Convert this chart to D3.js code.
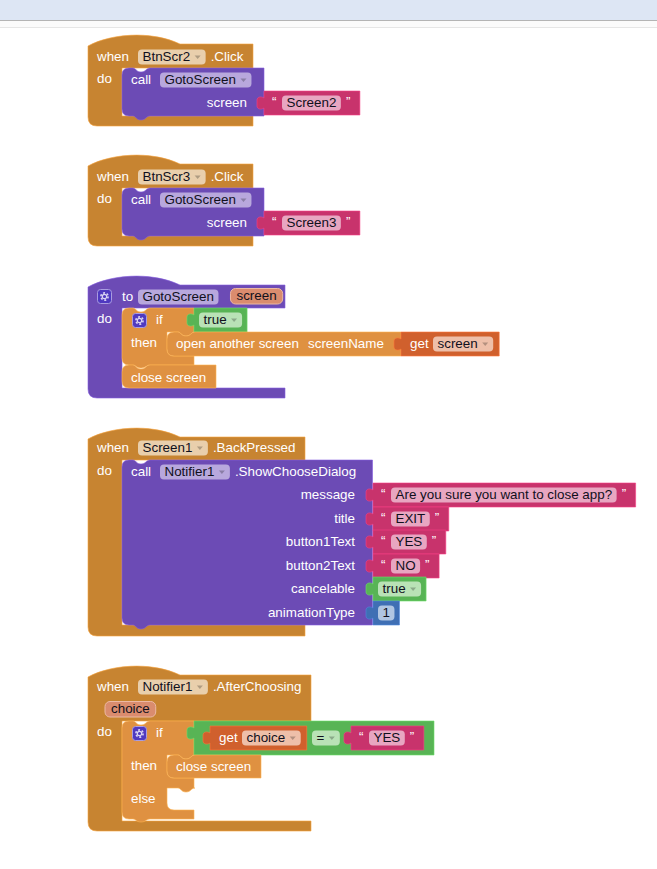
<!DOCTYPE html>
<html>
<head>
<meta charset="utf-8">
<script src="https://cdn.jsdelivr.net/npm/d3@7/dist/d3.min.js"></script>
<style>
  html, body { margin: 0; padding: 0; background: #fff; }
  svg { display: block; }
  text { font-family: "Liberation Sans", Arial, sans-serif; font-size: 13.4px; }
</style>
</head>
<body>
<svg id="chart" width="657" height="869"></svg>
<script>
// block labels
const clickButtons = ['BtnScr2', 'BtnScr3'];
const clickTargets = ['Screen2', 'Screen3'];
const procedureName = 'GotoScreen';
const procedureParam = 'screen';
const dialogParams = ['message', 'title', 'button1Text', 'button2Text', 'cancelable', 'animationType'];
const dialogStrings = ['Are you sure you want to close app?', 'EXIT', 'YES', 'NO'];
const dialogBool = 'true';
const dialogNumber = '1';
const choiceParam = 'choice';
const choiceMatch = 'YES';

const brown = '#c78431', purple = '#6c4bb5', pink = '#c8336c', green = '#58b455',
  orange = '#df9141', rust = '#d0602d', blue = '#3f6fb4';

const svg = d3.select('#chart');

// browser chrome strip on top
svg.append('rect').attr('width', 657).attr('height', 20).attr('fill', '#dde6f4');
svg.append('rect').attr('y', 20).attr('width', 657).attr('height', 1).attr('fill', '#b4b4b4');
svg.append('rect').attr('y', 21).attr('width', 657).attr('height', 6).attr('fill', '#fbfbfb');
svg.append('rect').attr('y', 27).attr('width', 657).attr('height', 1).attr('fill', '#e6e6e6');

var gBlocks = svg.append('g');

var shape = function (d, fill) {
  gBlocks.append('path')
    .attr('d', d.toString())
    .attr('fill', fill)
    .attr('stroke', d3.color(fill).brighter(0.6))
    .attr('stroke-opacity', 0.6)
    .attr('stroke-width', 1);
};

var label = function (str, x, cy, anchor, color) {
  return gBlocks.append('text')
    .attr('x', x)
    .attr('y', cy + 4)
    .attr('text-anchor', anchor || 'start')
    .attr('fill', color || '#fff')
    .text(str);
};

var textWidth = function (str) {
  var t = label(str, 0, -50);
  var w = t.node().getComputedTextLength();
  t.remove();
  return w;
};

// editable pill, returns its right edge
var field = function (str, x, cy, fill, dropdown) {
  var w = textWidth(str) + (dropdown ? 20 : 9);
  gBlocks.append('rect')
    .attr('x', x).attr('y', cy - 7.5)
    .attr('width', w).attr('height', 15)
    .attr('rx', 4)
    .attr('fill', fill);
  label(str, x + 4.5, cy, 'start', '#10101c');
  if (dropdown) {
    var ax = x + w - 8;
    gBlocks.append('path')
      .attr('d', 'M' + (ax - 3) + ',' + (cy - 1.5) + ' h6 l-3,3.5 Z')
      .attr('fill', d3.color(fill).darker(0.8));
  }
  return x + w;
};

// variable name pill
var paramPill = function (str, x, cy) {
  var w = textWidth(str) + 12;
  gBlocks.append('rect')
    .attr('x', x).attr('y', cy - 7.5)
    .attr('width', w).attr('height', 15.5)
    .attr('rx', 5)
    .attr('fill', '#da8c6e')
    .attr('stroke', '#ecb9a3');
  label(str, x + 6, cy, 'start', '#10101c');
};

var gearButton = function (x, y) {
  gBlocks.append('rect')
    .attr('x', x).attr('y', y)
    .attr('width', 14).attr('height', 14)
    .attr('rx', 3)
    .attr('fill', '#4f39c0')
    .attr('stroke', '#a99ce0');
  gBlocks.append('circle')
    .attr('cx', x + 7).attr('cy', y + 7).attr('r', 3.6)
    .attr('fill', 'none')
    .attr('stroke', '#d9d3f2')
    .attr('stroke-width', 1.6)
    .attr('stroke-dasharray', '2 1.77');
  gBlocks.append('circle')
    .attr('cx', x + 7).attr('cy', y + 7).attr('r', 2.2)
    .attr('fill', 'none')
    .attr('stroke', '#d9d3f2')
    .attr('stroke-width', 1.2);
};

// the dip on top of a stack block
var notchTop = function (p, x, y) {
  p.lineTo(x + 11, y);
  p.bezierCurveTo(x + 14, y, x + 14, y + 4, x + 19, y + 4);
  p.bezierCurveTo(x + 24, y + 4, x + 24, y, x + 28, y);
};

// the bump below a stack block, drawn right to left
var tabBottom = function (p, x, y, depth) {
  p.lineTo(x + 28, y);
  p.bezierCurveTo(x + 24, y, x + 24, y + depth, x + 19, y + depth);
  p.bezierCurveTo(x + 14, y + depth, x + 14, y, x + 11, y);
};

var stackPath = function (x, y, w, h, hasTab) {
  var r = 7;
  var p = d3.path();
  p.moveTo(x + r, y);
  notchTop(p, x, y);
  p.lineTo(x + w, y);
  p.lineTo(x + w, y + h);
  if (hasTab) tabBottom(p, x, y + h, 4);
  p.lineTo(x + r, y + h);
  p.quadraticCurveTo(x, y + h, x, y + h - r);
  p.lineTo(x, y + r);
  p.quadraticCurveTo(x, y, x + r, y);
  p.closePath();
  return p;
};

// hat block with a statement mouth: brown or purple wrapper
var hatPath = function (x, y, right, headBottom, mouthBottom, bottom) {
  var p = d3.path();
  var inner = x + 34;
  p.moveTo(x, y + 2);
  p.bezierCurveTo(x + 22, y - 10, x + 62, y - 14, x + 92, y);
  p.lineTo(right, y);
  p.lineTo(right, headBottom);
  p.lineTo(inner, headBottom);
  p.lineTo(inner, mouthBottom);
  p.lineTo(right, mouthBottom);
  p.lineTo(right, bottom);
  p.lineTo(x + 9, bottom);
  p.quadraticCurveTo(x, bottom, x, bottom - 9);
  p.closePath();
  return p;
};

// value block with a plug on its left, from x to right
var valuePath = function (x, y, right, h) {
  var p = d3.path();
  p.moveTo(x, y);
  p.lineTo(right, y);
  p.lineTo(right, y + h);
  p.lineTo(x, y + h);
  p.lineTo(x, y + 17);
  p.bezierCurveTo(x - 3, y + 19, x - 7, y + 18, x - 7, y + 15);
  p.lineTo(x - 7, y + 9);
  p.bezierCurveTo(x - 7, y + 6, x - 3, y + 5, x, y + 7);
  p.closePath();
  return p;
};

// if block, mouths is a list of [top, bottom] openings
var ifPath = function (x, y, right, mouths, bottom) {
  var r = 7, inner = x + 45;
  var p = d3.path();
  p.moveTo(x + r, y);
  notchTop(p, x, y);
  p.lineTo(right, y);
  mouths.forEach(function (m) {
    p.lineTo(right, m[0]);
    tabBottom(p, inner, m[0], 4);
    p.lineTo(inner, m[0]);
    p.lineTo(inner, m[1] - r);
    p.quadraticCurveTo(inner, m[1], inner + r, m[1]);
    p.lineTo(right, m[1]);
  });
  p.lineTo(right, bottom);
  tabBottom(p, x, bottom, 3);
  p.lineTo(x + r, bottom);
  p.quadraticCurveTo(x, bottom, x, bottom - r);
  p.lineTo(x, y + r);
  p.quadraticCurveTo(x, y, x + r, y);
  p.closePath();
  return p;
};

var stringBlock = function (str, x, y) {
  var right = x + 18 + textWidth(str) + 9 + 19;
  shape(valuePath(x, y, right, 24), pink);
  label('\u201c', x + 8, y + 11, 'start');
  var end = field(str, x + 18, y + 12, '#e8a6c1', false);
  label('\u201d', end + 5, y + 11, 'start');
};

var boolBlock = function (str, x, y) {
  var w = textWidth(str) + 20;
  shape(valuePath(x, y, x + 5 + w + 5, 24), green);
  field(str, x + 5, y + 12, '#b9e2b6', true);
};

var getBlock = function (str, x, y) {
  var w = textWidth(str) + 20;
  var right = x + 32 + w + 6;
  shape(valuePath(x, y, right, 24), rust);
  label('get', x + 9, y + 12);
  field(str, x + 32, y + 12, '#eebfa9', true);
};

var closeScreen = function (x, y, cy) {
  shape(stackPath(x, y, 94, 23, false), orange);
  label('close screen', x + 9, cy);
};

// -- the two button handlers
var drawClick = function (btn, target, y0) {
  shape(hatPath(88, y0, 253, y0 + 24, y0 + 72, y0 + 82), brown);
  label('when', 97, y0 + 13);
  var end = field(btn, 138, y0 + 13, '#e9cfac', true);
  label('.Click', end + 5, y0 + 13);
  label('do', 97, y0 + 35);
  shape(stackPath(122, y0 + 24, 142, 48, true), purple);
  label('call', 131, y0 + 36);
  field(procedureName, 160, y0 + 36, '#b8a8dd', true);
  label(procedureParam, 247, y0 + 59, 'end');
  stringBlock(target, 264, y0 + 47);
};
clickButtons.forEach(function (btn, i) {
  drawClick(btn, clickTargets[i], 44 + i * 120);
});

// -- procedure
shape(hatPath(88, 285, 285, 308, 388, 398), purple);
gearButton(97.5, 289.5);
label('to', 122, 297);
var procEnd = field(procedureName, 138, 297, '#b8a8dd', false);
paramPill(procedureParam, procEnd + 12, 296);
label('do', 97, 319);
shape(ifPath(122, 308, 194, [[332, 356]], 365), orange);
gearButton(132.5, 313.5);
label('if', 156, 320);
boolBlock('true', 194, 308);
label('then', 131, 343);
shape(stackPath(167, 332, 234, 24, false), orange);
label('open another screen', 176, 344);
label('screenName', 308, 344);
getBlock(procedureParam, 401, 332);
closeScreen(122, 365, 378);

// -- back pressed
var rowY = d3.scalePoint().domain(dialogParams).range([495, 613]).round(false);
var rowCy = function (name) { return Math.round(rowY(name)); };
shape(hatPath(88, 437, 305, 460, 625, 636), brown);
label('when', 97, 448);
var backEnd = field('Screen1', 138, 448, '#e9cfac', true);
label('.BackPressed', backEnd + 5, 448);
label('do', 97, 471);
shape(stackPath(122, 460, 250.5, 165, true), purple);
label('call', 131, 472);
var notifEnd = field('Notifier1', 160, 472, '#b8a8dd', true);
label('.ShowChooseDialog', notifEnd + 5, 472);
dialogParams.forEach(function (name) {
  label(name, 355, rowCy(name), 'end');
});
dialogStrings.forEach(function (str, i) {
  stringBlock(str, 373, rowCy(dialogParams[i]) - 12);
});
boolBlock(dialogBool, 373, rowCy('cancelable') - 12);
var numY = rowCy('animationType') - 12;
shape(valuePath(373, numY, 373 + textWidth(dialogNumber) + 19, 24), blue);
field(dialogNumber, 378, numY + 12, '#b0c5e2', false);

// -- after choosing
shape(hatPath(88, 675, 311, 721, 821, 831), brown);
label('when', 97, 687);
var afterEnd = field('Notifier1', 138, 687, '#e9cfac', true);
label('.AfterChoosing', afterEnd + 5, 687);
paramPill(choiceParam, 105, 709);
label('do', 97, 732);
shape(ifPath(122, 721, 194, [[755, 778], [788, 810]], 819), orange);
gearButton(132.5, 726.5);
label('if', 156, 733);
label('then', 131, 766);
label('else', 131, 799);
shape(valuePath(194, 721, 434, 34), green);
getBlock(choiceParam, 210, 726);
field('=', 312, 738, '#b9e2b6', true);
stringBlock(choiceMatch, 351, 726);
closeScreen(167, 755, 767);
</script>
</body>
</html>
